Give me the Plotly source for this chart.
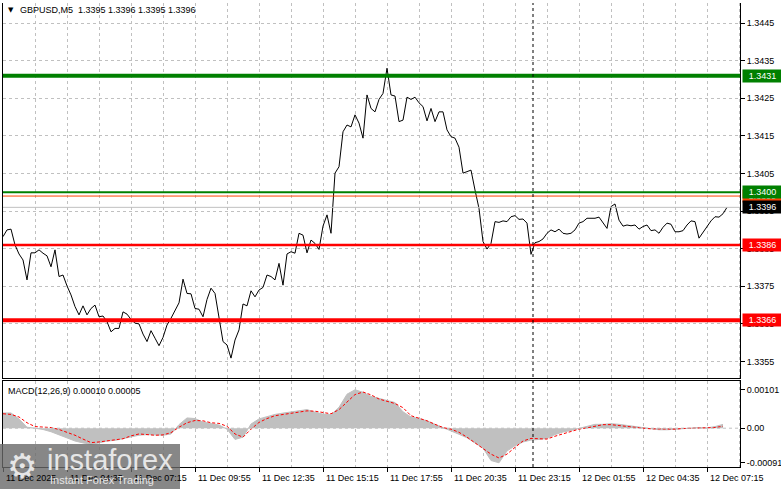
import pandas as pd
import plotly.graph_objects as go

W, H = 781, 489

# GBPUSD M5 closes, one reading every 10 minutes from 11 Dec 01:55
close = [
    1.33882, 1.33900, 1.33902, 1.33860, 1.33836, 1.33820, 1.33767, 1.33839, 1.33839, 1.33847,
    1.33838, 1.33831, 1.33802, 1.33847, 1.33776, 1.33780, 1.33751, 1.33727, 1.33696, 1.33674,
    1.33698, 1.33674, 1.33691, 1.33700, 1.33669, 1.33671, 1.33656, 1.33629, 1.33638, 1.33638,
    1.33682, 1.33676, 1.33662, 1.33652, 1.33650, 1.33623, 1.33603, 1.33632, 1.33612, 1.33592,
    1.33614, 1.33647, 1.33665, 1.33687, 1.33706, 1.33769, 1.33731, 1.33730, 1.33691, 1.33689,
    1.33669, 1.33715, 1.33745, 1.33731, 1.33669, 1.33603, 1.33594, 1.33559, 1.33607, 1.33634,
    1.33703, 1.33698, 1.33738, 1.33722, 1.33740, 1.33747, 1.33780, 1.33776, 1.33767, 1.33811,
    1.33753, 1.33836, 1.33842, 1.33838, 1.33891, 1.33886, 1.33839, 1.33873, 1.33864, 1.33848,
    1.33910, 1.33940, 1.33891, 1.34051, 1.34068, 1.34161, 1.34179, 1.34174, 1.34206, 1.34184,
    1.34144, 1.34259, 1.34223, 1.34214, 1.34247, 1.34263, 1.34330, 1.34259, 1.34256, 1.34188,
    1.34192, 1.34253, 1.34247, 1.34253, 1.34238, 1.34228, 1.34190, 1.34223, 1.34188, 1.34214,
    1.34214, 1.34166, 1.34148, 1.34144, 1.34120, 1.34051, 1.34055, 1.34059, 1.34006, 1.33957,
    1.33869, 1.33849, 1.33864, 1.33922, 1.33920, 1.33924, 1.33922, 1.33935, 1.33938, 1.33928,
    1.33929, 1.33918, 1.33835, 1.33866, 1.33869, 1.33876, 1.33891, 1.33900, 1.33895, 1.33902,
    1.33891, 1.33889, 1.33891, 1.33900, 1.33918, 1.33922, 1.33931, 1.33930, 1.33931, 1.33934,
    1.33919, 1.33904, 1.33962, 1.33969, 1.33926, 1.33910, 1.33913, 1.33911, 1.33913, 1.33902,
    1.33909, 1.33913, 1.33898, 1.33900, 1.33891, 1.33907, 1.33918, 1.33915, 1.33895, 1.33895,
    1.33898, 1.33913, 1.33924, 1.33922, 1.33878, 1.33894, 1.33911, 1.33924, 1.33935, 1.33934,
    1.33943, 1.33960,
]

# MACD(12,26,9) in units of 1e-5, one reading every 20 minutes
macd_hist_e5 = [
    40, 40, 24, 2.5, 0, -3.4, -9.3, -17.7, -26.9, -33.7,
    -38.7, -42.1, -38.7, -33.7, -32, -26.9, -21.9, -18.5, -16.8, -16.8,
    -18.5, -15.2, 9.3, 26.9, 25.3, 16, 12.6, 8.4, -2.5, -29.5,
    -23.6, 10.9, 24.4, 31.2, 36.2, 39.6, 42.1, 46.3, 48.8, 42.1,
    37, 35.4, 54.7, 89.3, 101, 94.3, 83.4, 78.3, 73.3, 67.4,
    42.9, 29.5, 25.3, 19.4, 10.1, 1.7, -5.9, -16, -25.3, -37.9,
    -52.2, -85, -91, -59.8, -46.3, -36.2, -31.2, -29.5, -26.9, -16.8,
    -10.1, -5.9, -0.8, 5.1, 10.1, 10.1, 11.8, 10.1, 7.6, 4.2,
    0.8, -1.7, -4.2, -4.2, -2.5, -0.8, 0.8, 1.7, 0.8, 4.2,
    10,
]
macd_signal_e5 = [
    37.9, 36.2, 29.5, 14.3, 4.2, 2.5, 1.7, -3.4, -10.1, -18.5,
    -28.6, -37.9, -36.2, -32.8, -30.3, -27.8, -20.2, -15.2, -16.8, -18.5,
    -17.7, -11.8, 2.5, 14.3, 20.2, 19.4, 14.3, 12.6, 5.1, -15.2,
    -23.6, -2.5, 15.2, 25.3, 32.8, 36.2, 37.9, 42.9, 45.5, 44.6,
    40.4, 37.9, 48.8, 68.2, 88.4, 95.1, 87.6, 76.6, 71.6, 64.8,
    53.9, 32.8, 26.1, 19.4, 10.1, 1.7, -2.5, -10.9, -23.6, -37.9,
    -52.2, -68.2, -78.3, -68.2, -50.5, -33.7, -26.9, -26.9, -28.6, -21.1,
    -14.3, -7.6, -2.5, 0.8, 5.9, 9.3, 9.3, 6.7, 4.2, 2.5,
    0, -1.7, -2.5, -2.5, -2.5, -0.8, 0, 0, 0, 1.7,
    5,
]

# horizontal levels: price, colour, line width (label drawing order: 1.3399 under 1.3400)
level_prices = [1.3399, 1.3400, 1.3431, 1.3386, 1.3366]
level_colors = ["#ff4500", "#008000", "#008000", "#ff0000", "#ff0000"]
level_widths = [1, 2, 4, 2.5, 4]
bid = 1.3396

x_labels = ["11 Dec 2025", "11 Dec 04:35", "11 Dec 07:15", "11 Dec 09:55", "11 Dec 12:35",
            "11 Dec 15:15", "11 Dec 17:55", "11 Dec 20:35", "11 Dec 23:15", "12 Dec 01:55",
            "12 Dec 04:35", "12 Dec 07:15"]

t0 = pd.Timestamp("2025-12-11 01:55")
price_times = pd.date_range(t0, periods=len(close), freq="10min")
macd_times = pd.date_range(t0, periods=len(macd_hist_e5), freq="20min")
label_times = pd.date_range(t0, periods=len(x_labels), freq="160min")
t_end = t0 + pd.Timedelta(minutes=737 * 2.5)  # 2 px per 5-minute bar
separator = pd.Timestamp("2025-12-12 00:00")

macd_hist = [v * 1e-5 for v in macd_hist_e5]
macd_signal = [v * 1e-5 for v in macd_signal_e5]

FONT = "Liberation Sans, Arial, sans-serif"
GRID = "#c0c0c0"
MIN = 60 * 1000


def py(p):
    return 1 - p / H


def px(p):
    return p / W


fig = go.Figure()

fig.add_trace(go.Scatter(x=price_times, y=close, mode="lines",
                         line=dict(color="black", width=1), xaxis="x", yaxis="y"))
fig.add_trace(go.Scatter(x=macd_times, y=macd_hist, mode="lines", fill="tozeroy",
                         fillcolor="#c0c0c0", line=dict(color="#c0c0c0", width=1),
                         xaxis="x2", yaxis="y2"))
fig.add_trace(go.Scatter(x=macd_times, y=macd_signal, mode="lines",
                         line=dict(color="#ff0000", width=1, dash="3px,2px"),
                         xaxis="x2", yaxis="y2"))

xdom = [px(3), px(740)]
common_x = dict(type="date", range=[t0, t_end], domain=xdom, showticklabels=False,
                showgrid=True, gridcolor=GRID, griddash="3px,3px", gridwidth=1,
                zeroline=False, showline=True, linecolor="black", linewidth=1,
                automargin=False)

fig.update_layout(
    width=W, height=H,
    margin=dict(l=0, r=0, t=0, b=0, pad=0),
    paper_bgcolor="white", plot_bgcolor="white",
    showlegend=False,
    font=dict(family=FONT, size=9, color="black"),
    xaxis=dict(**common_x, anchor="y", tick0=t0, dtick=80 * MIN, ticks=""),
    xaxis2=dict(**common_x, anchor="y2", mirror=True, tick0=t0, dtick=160 * MIN,
                ticks="outside", ticklen=4, tickcolor="black",
                minor=dict(dtick=80 * MIN, tick0=t0, showgrid=True, gridcolor=GRID,
                           griddash="3px,3px", ticks="")),
    yaxis=dict(domain=[py(378), py(3)], range=[1.335061, 1.345035], side="right",
               anchor="x", tick0=1.3355, dtick=0.001, tickformat=".4f",
               ticks="outside", ticklen=4, tickcolor="black", automargin=False,
               showgrid=True, gridcolor=GRID, griddash="3px,3px", zeroline=False,
               showline=True, linecolor="black", mirror=True),
    yaxis2=dict(domain=[py(467), py(381)], range=[-0.00102, 0.00124], side="right",
                anchor="x2", tickvals=[0.00101, 0, -0.00091],
                ticktext=["0.00101", "0.00", "-0.00091"],
                ticks="outside", ticklen=4, tickcolor="black", automargin=False,
                showgrid=False, zeroline=False,
                showline=True, linecolor="black", mirror=True),
)

# zero level of the MACD window
fig.add_shape(type="line", xref="x2 domain", yref="y2", x0=0, x1=1, y0=0, y1=0,
              line=dict(color=GRID, width=1, dash="3px,3px"))

# current bid line
fig.add_shape(type="line", xref="x domain", yref="y", x0=0, x1=1, y0=bid, y1=bid,
              line=dict(color="#c0c0c0", width=1))

for p, c, w in zip(level_prices, level_colors, level_widths):
    fig.add_shape(type="line", xref="x domain", yref="y", x0=0, x1=1, y0=p, y1=p,
                  line=dict(color=c, width=w))

# period separator
fig.add_shape(type="line", xref="x", yref="paper", x0=separator, x1=separator,
              y0=py(467), y1=py(3), line=dict(color="black", width=1, dash="3px,3px"))

# price labels on the right scale
for p, c in zip(level_prices, level_colors):
    fig.add_annotation(x=px(742), xref="paper", xanchor="left", y=p, yref="y",
                       yanchor="middle", text=f"{p:.4f}", showarrow=False, bgcolor=c,
                       width=37, height=10, borderpad=1,
                       font=dict(color="white", size=9, family=FONT))
fig.add_annotation(x=px(742), xref="paper", xanchor="left", y=bid, yref="y",
                   yanchor="middle", text=f"{bid:.4f}", showarrow=False, bgcolor="black",
                   width=37, height=10, borderpad=1,
                   font=dict(color="white", size=9, family=FONT))

# time labels, left aligned at their ticks
for t, lab in zip(label_times, x_labels):
    fig.add_annotation(x=t, xref="x2", xanchor="left", xshift=1, y=py(478), yref="paper",
                       yanchor="middle", text=lab, showarrow=False,
                       font=dict(size=9, family=FONT))

# header texts
fig.add_annotation(x=px(6), y=py(10), xref="paper", yref="paper", xanchor="left",
                   yanchor="middle", text="▼", showarrow=False,
                   font=dict(size=7, family="DejaVu Sans"))
fig.add_annotation(x=px(18), y=py(10), xref="paper", yref="paper", xanchor="left",
                   yanchor="middle", text="GBPUSD,M5  1.3395 1.3396 1.3395 1.3396",
                   showarrow=False, font=dict(size=9, family=FONT))
fig.add_annotation(x=px(6), y=py(391), xref="paper", yref="paper", xanchor="left",
                   yanchor="middle", text="MACD(12,26,9) 0.00010 0.00005", showarrow=False,
                   font=dict(size=9, family=FONT))

# watermark
fig.add_shape(type="rect", xref="paper", yref="paper", x0=0, x1=px(180), y0=0, y1=py(444),
              fillcolor="rgba(105,105,105,0.8)", line=dict(width=0), layer="above")
fig.add_annotation(x=px(22), y=py(466), xref="paper", yref="paper", xanchor="center",
                   yanchor="middle", text="⚙", showarrow=False,
                   font=dict(size=34, color="#e6e6e6", family="DejaVu Sans"))
fig.add_annotation(x=px(45), y=py(460), xref="paper", yref="paper", xanchor="left",
                   yanchor="middle", text="instaforex", showarrow=False,
                   font=dict(size=29, color="#e6e6e6", family=FONT))
fig.add_annotation(x=px(48), y=py(480), xref="paper", yref="paper", xanchor="left",
                   yanchor="middle", text="Instant Forex Trading", showarrow=False,
                   font=dict(size=11, color="#e6e6e6", family=FONT))

# the page body has a default 8px margin; remove it so the figure sits at the corner
fig.write_html("out.html", config={"displayModeBar": False},
               post_script="document.body.style.margin='0';")
